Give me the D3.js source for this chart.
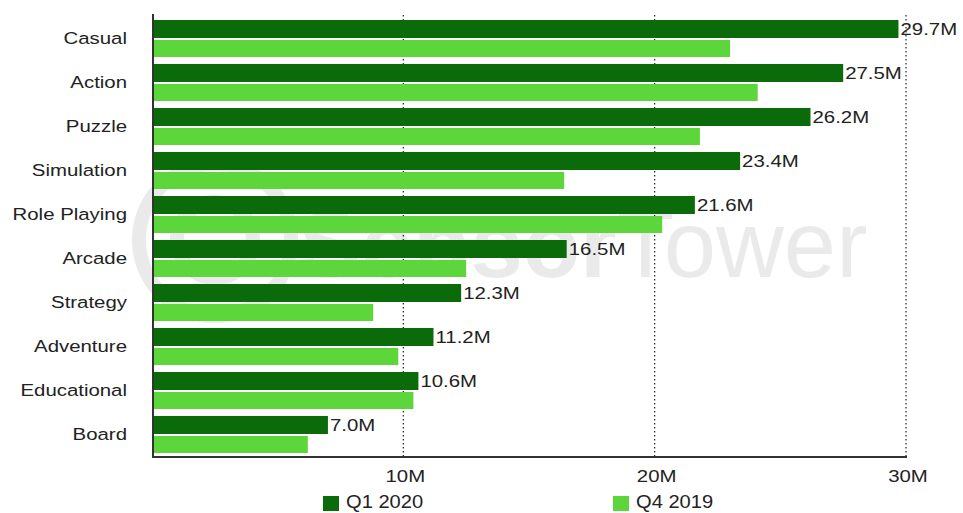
<!DOCTYPE html>
<html><head><meta charset="utf-8">
<script src="https://cdn.jsdelivr.net/npm/d3@7"></script>
<style>body{margin:0;background:#fff}svg{display:block}text{font-family:"Liberation Sans",Arial,sans-serif}</style>
</head><body><svg id="c" width="963" height="513"></svg>
<script>
const categories = ["Casual","Action","Puzzle","Simulation","Role Playing","Arcade","Strategy","Adventure","Educational","Board"];
const q1_2020 = [29.7,27.5,26.2,23.4,21.6,16.5,12.3,11.2,10.6,7.0];
const q4_2019 = [23.0,24.1,21.8,16.4,20.3,12.5,8.8,9.8,10.4,6.2];
const tickValues = [10,20,30];
const tickLabels = ["10M","20M","30M"];
const seriesNames = ["Q1 2020","Q4 2019"];
const colors = ["#0b6b0b","#5cd63a"];

const svg = d3.select("#c");
const x = d3.scaleLinear().domain([0,30]).range([152,906]);
const y = d3.scaleBand().domain(categories).range([16,456]).paddingInner(0).paddingOuter(0);
const SX = 1.2;

// watermark
const wm = svg.append("g").attr("opacity",0.08);
wm.append("circle").attr("cx",215).attr("cy",240).attr("r",76).attr("fill","none").attr("stroke","#000").attr("stroke-width",14);
wm.append("circle").attr("cx",215).attr("cy",240).attr("r",38).attr("fill","none").attr("stroke","#000").attr("stroke-width",14);
const wt = wm.append("text").attr("x",298).attr("y",277).attr("font-size",94).attr("fill","#000")
  .attr("font-family","Lato, 'Liberation Sans', sans-serif");
wt.append("tspan").attr("font-weight","bold").text("Sensor");
wt.append("tspan").attr("font-weight","300").text("Tower");

// grid
svg.append("g").selectAll("line").data(tickValues).join("line")
  .attr("x1",d=>x(d)).attr("x2",d=>x(d)).attr("y1",15).attr("y2",457)
  .attr("stroke","#222").attr("stroke-width",1.2).attr("stroke-dasharray","1.5,2.5");

const g = svg.append("g");
g.selectAll("rect.a").data(categories).join("rect").attr("class","a")
  .attr("x",x(0)).attr("y",d=>y(d)+4).attr("height",18)
  .attr("width",(d,i)=>x(q1_2020[i])-x(0)).attr("fill",colors[0]);
g.selectAll("rect.b").data(categories).join("rect").attr("class","b")
  .attr("x",x(0)).attr("y",d=>y(d)+24).attr("height",17)
  .attr("width",(d,i)=>x(q4_2019[i])-x(0)).attr("fill",colors[1]);

g.selectAll("text.v").data(categories).join("text").attr("class","v")
  .attr("transform",(d,i)=>`translate(${x(q1_2020[i])+2},${y(d)+13}) scale(${SX},1)`)
  .attr("dy","0.35em").attr("font-size",17).attr("fill","#222").text((d,i)=>q1_2020[i].toFixed(1)+"M");

g.selectAll("text.c").data(categories).join("text").attr("class","c")
  .attr("transform",d=>`translate(127,${y(d)+y.bandwidth()/2}) scale(${SX},1)`)
  .attr("dy","0.35em").attr("text-anchor","end").attr("font-size",17).attr("fill","#222").text(d=>d);

// axes lines
svg.append("line").attr("x1",153).attr("x2",153).attr("y1",14).attr("y2",458).attr("stroke","#333").attr("stroke-width",2);
svg.append("line").attr("x1",152).attr("x2",907).attr("y1",457).attr("y2",457).attr("stroke","#333").attr("stroke-width",2);

svg.append("g").selectAll("text").data(tickValues).join("text")
  .attr("transform",d=>`translate(${x(d)+2},476) scale(${SX},1)`)
  .attr("dy","0.35em").attr("text-anchor","middle")
  .attr("font-size",17).attr("fill","#222").text((d,i)=>tickLabels[i]);

// legend
const lx = [323,613];
const lg = svg.append("g");
lg.selectAll("rect").data(seriesNames).join("rect")
  .attr("x",(d,i)=>lx[i]).attr("y",496).attr("width",16).attr("height",15).attr("fill",(d,i)=>colors[i]);
lg.selectAll("text").data(seriesNames).join("text")
  .attr("transform",(d,i)=>`translate(${lx[i]+23},502) scale(1.15,1)`).attr("dy","0.35em")
  .attr("font-size",17.5).attr("fill","#222").text(d=>d);
</script></body></html>
